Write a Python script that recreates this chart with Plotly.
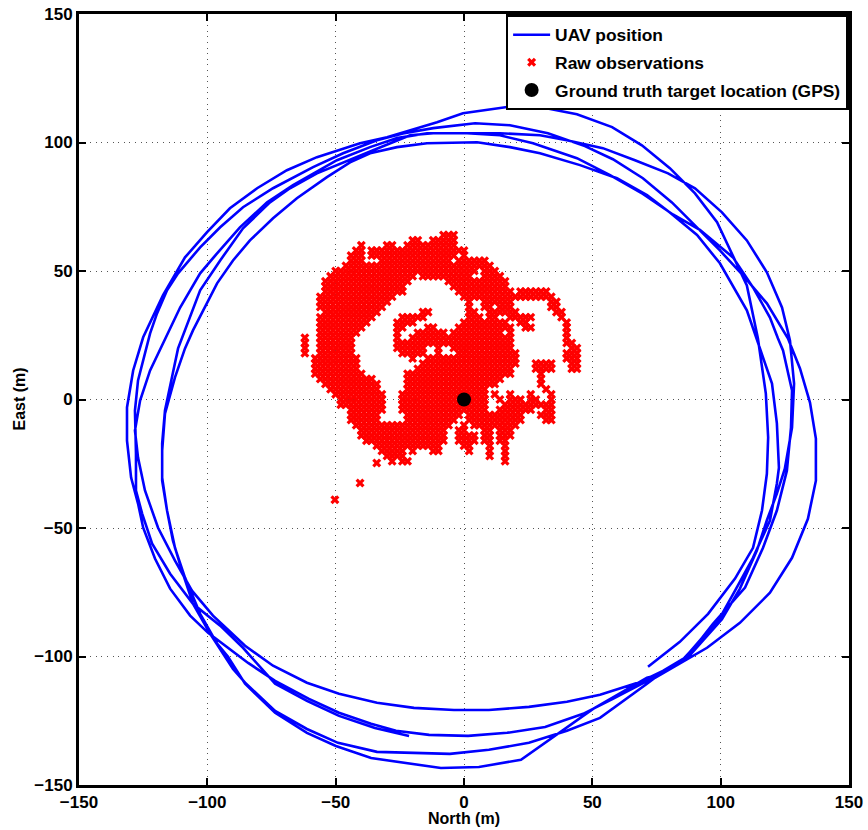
import plotly.graph_objects as go

# UAV track as (north, east) in metres, leg by leg
leg1 = [(71.7,-104),(84.1,-94.3),(95.1,-83.4),(105.6,-69.7),(112.6,-57.7),(116.1,-43.2),(118,-28.9),(118.5,-14.8),(117.6,2.3),(114.5,23.8),
        (110.2,44.4),(104.4,56.9),(98.6,69),(90,80.2),(80.2,90),(69.3,98.9),(57.7,106),(44,111),(29.6,113.8),(16.8,113.8),(4.3,112.2),(-0.4,111.4),
        (-10.5,107.9),(-21,104.8),(-30,102),(-40.5,99.7),(-57.3,94.3),(-69,89.2),(-80.6,82.2),(-91.2,74.4),(-100.1,65.1),(-108.7,55.3),(-117.3,40.5),(-125,24.2),
        (-128.9,11.3),(-131.3,-3.1),(-131.3,-16),(-129.7,-30.4),(-127,-40.5),(-125,-49.9),(-120.4,-61.9),(-114.5,-73.6),(-106.7,-84.1),(-99.7,-90.8),
        (-84.1,-102.5),(-73.6,-109.5),(-60.4,-116.5),(-48.7,-121.9),(-36.2,-126.2),(-26.5,-128.9),(-13.6,-130.5),(1.6,-130.9),(16.8,-129.7),(31.6,-127.4),(46.4,-122.3),(58,-116.5),(71.3,-109.5)]
leg2 = [(75.2,-107.5),(88,-99.5),(94.7,-92),(100.5,-85.5),(107.5,-73.6),(114.1,-58.8),(118,-47),(121.9,-36.6),(125,-26.9),(127.8,-10.9),(128.6,6.2),(127,23),(123.9,35.8),(118,49.5),
        (110.2,61.9),(100.5,72.8),(90,82.2),(79.5,88),(66.6,93.1),(54.1,97.8),(40.1,100.9),(29.6,102.8),(14,103.6),(-0.4,103.6),(-14.4,103.6),(-26.1,101.7),(-36.6,98.2),(-49.5,93.1),(-66.6,83.4),
        (-76.7,76.7),(-87.3,67),(-96.2,56.9),(-102.8,49.1),(-110.6,35.8),(-118.4,19.9),(-122.3,11.3),(-126.2,-0.4),(-128.2,-12.1),(-127,-22.6),(-124.3,-35.4),(-119.2,-49.9),(-112.6,-62.7),(-106,-74.4),(-97.8,-84.1),
        (-85.3,-95.8),(-74.4,-103.6),(-61.2,-110.2),(-48.7,-114.5),(-33.9,-118),(-19.5,-120),(-3.9,-120.8),(9.7,-120.8),(25.3,-119.6),(40.1,-117.6),(53,-114.9),(68.6,-109.9),(77.5,-105.6)]
leg3 = [(86,-100.5),(93,-92.5),(98.6,-86.9),(105.6,-74.4),(112.6,-61.6),(119.2,-47.1),(121.9,-32.7),(122.7,-26.5),(121.9,-9.3),(120,6.2),(116.5,16.4),(114.5,23),(110.2,34.7),(99.7,53),(90.8,64),(80.2,72.8),(71.3,79.5),(59.6,86.1),(45.2,91.2),(29.6,95.8),(17.9,98.2),(5.1,100.1),(-14.4,99.7),(-26.1,98.2),(-36.6,95.8),(-44.4,92.3),(-53.4,86.5),(-65.1,78.3),(-74.4,70.5),(-83.4,61.9),(-90,54.1),(-96.2,45.2),(-101.7,34.7),(-105.6,26.9),(-108.7,19.9),
        (-112.6,8.6),(-116.5,-5.5),(-117.6,-19.9),(-117.6,-31.6),(-115.7,-43.2),(-112.6,-57.7),(-108.7,-69.3),(-102.8,-83.4),(-96.2,-95),
        (-92,-100),(-85.3,-110.6),(-73.6,-121.9),(-61.2,-129.7),(-49.9,-134.8),(-36.2,-139.5),(-9,-143.4),(5.8,-143),(22.2,-140.2),(50.3,-120.4),(71.3,-108.3)]
leg4 = [(74.4,-107.5),(84.5,-102),(91,-95),(97,-87.3),(109.5,-73.2),(116.5,-57.7),(121.9,-43.2),(125.8,-27.7),(127.4,-10.9),(127.8,3.5),(124.3,19.1),(122.3,23.8),(119.2,31.9),(112.6,43.6),(104.8,55.3),(91.9,66),(81.4,72),(69.7,80),(56.9,87.3),(44,93.9),(26.9,99.7),(14,102.8),(1.2,103.6),(-12,103.6),(-21,102.8),(-35.4,97),(-49.5,91.2),(-57.3,88),(-67.8,82.2),(-75.6,76.7),(-86.1,66.6),(-95,54.1),(-102.8,42.5),(-106.7,31.9),(-111.4,19.9),
        (-113.8,8.6),(-116.5,-4.3),(-117.6,-17.1),(-117.6,-30.4),(-115.7,-43.2),(-113.4,-54.9),(-109.9,-66.6),(-105.6,-79.5),(-98.9,-91.2),(-90,-104.8),(-85.3,-110.2),(-73.6,-121.2),(-61.2,-128.2),(-49.1,-133.6),(-33.9,-137.1),(-5.5,-137.9),(9.7,-136.3),(25.3,-133.6),(40.1,-128.9),(53,-123.9),(71.3,-110.6)]
leg5 = [(74.4,-108.3),(94.7,-96.6),(107.5,-86.9),(119.2,-75.2),(127.8,-61.6),(134,-46.4),(137.1,-31.6),(137.1,-15.2),(134.8,-1.2),(130.9,12.1),(126.2,23.8),(118,37.4),(108.7,48.3),(99.7,58),(90.8,67),(81,76.7),(69.7,86.1),(58,93.5),(47.1,98.6),(32.7,103.6),(17.9,106.7),(4.3,107.5),(-12,105.6),(-23.8,103.5),(-33.9,100.9),(-47.1,95.8),(-58.8,90.4),(-74.4,82.2),(-86.1,74.8),(-95,67),(-102.8,59.2),(-111.4,49.1),(-115.7,42.5),(-119.6,33.5),(-122.3,25.7),
        (-127,7.4),(-128.2,-4.3),(-127.8,-21),(-127.8,-35.4),(-125.4,-44.4),(-121.5,-56.1),(-114.5,-67.8),(-105.6,-79.5),(-95,-88),(-86.1,-96.6),(-73.6,-110.6),(-61.2,-117.3),(-48.7,-123.1),(-34.7,-127.8),(-21.4,-130.9)]

# Raw observations, east value -> north values
obs_rows = {
 64: [-8,-6,-4],
 62: [-20,-18,-12,-10,-8,-6,-4],
 60: [-40,-30,-28,-22,-20,-18,-16,-14,-12,-10,-8,-6,-4],
 58: [-42,-40,-36,-34,-32,-30,-28,-26,-24,-22,-20,-18,-16,-14,-12,-10,-8,-6,-4,-2,0],
 56: [-44,-42,-40,-36,-34,-32,-30,-28,-26,-24,-22,-20,-18,-16,-14,-12,-10,-8,-6,-4,0],
 54: [-44,-42,-40,-32,-30,-28,-26,-24,-22,-20,-18,-16,-14,-12,-10,-8,-6,-2,0,2,4,6,8],
 52: [-46,-44,-42,-40,-38,-36,-34,-32,-30,-28,-26,-24,-22,-20,-18,-16,-14,-12,-10,-8,-6,-4,-2,0,2,4,6,8,10],
 50: [-50,-48,-46,-44,-42,-40,-38,-36,-34,-32,-30,-28,-26,-24,-22,-20,-18,-16,-14,-12,-10,-8,-6,-4,-2,0,2,4,8,10,12],
 48: [-52,-50,-48,-46,-44,-42,-40,-38,-36,-34,-32,-30,-28,-26,-24,-22,-20,-16,-14,-12,-10,-8,-6,-4,-2,0,2,8,10,12,14],
 46: [-54,-52,-50,-48,-46,-44,-42,-40,-38,-36,-34,-32,-30,-28,-26,-24,-22,-6,-4,-2,0,2,4,6,8,10,12,14,16],
 44: [-54,-52,-50,-48,-46,-44,-42,-40,-38,-36,-34,-32,-30,-28,-26,-24,-4,-2,0,2,4,6,8,10,12,14,16],
 42: [-54,-52,-50,-48,-46,-44,-42,-40,-38,-36,-34,-32,-30,-28,-26,-24,-2,0,2,4,6,8,10,12,14,16,18,22,24,26,28,30,32],
 40: [-56,-54,-52,-50,-48,-46,-44,-42,-40,-38,-36,-34,-32,-30,-28,0,2,4,6,8,10,12,14,16,18,20,22,24,26,28,30,32,34],
 38: [-56,-54,-52,-50,-48,-46,-44,-42,-40,-38,-36,-34,-32,-30,2,8,10,12,14,16,18,34,36],
 36: [-56,-54,-52,-50,-48,-46,-44,-42,-40,-38,-36,-34,-32,2,8,10,14,16,18,34,36],
 34: [-54,-52,-50,-48,-46,-44,-42,-40,-38,-36,-34,-16,-14,2,4,10,12,14,16,18,20,36,38],
 32: [-56,-54,-52,-50,-48,-46,-44,-42,-40,-38,-36,-24,-22,-20,-18,-16,2,4,6,10,12,18,20,22,24,26,38],
 30: [-56,-54,-52,-50,-48,-46,-44,-42,-40,-38,-26,-24,-22,-20,0,2,4,6,8,10,12,14,16,22,24,40],
 28: [-56,-54,-52,-50,-48,-46,-44,-42,-40,-26,-24,-14,-12,-2,0,2,4,6,8,10,12,14,16,18,24,26,40],
 26: [-56,-54,-52,-50,-48,-46,-44,-42,-26,-18,-16,-14,-12,-10,-8,-4,-2,0,2,4,6,8,10,12,14,18,40],
 24: [-62,-56,-54,-52,-50,-48,-46,-44,-26,-20,-18,-16,-14,-12,-10,-8,-6,-4,-2,0,2,4,6,8,10,12,14,16,18,40],
 22: [-62,-56,-54,-52,-50,-48,-46,-44,-26,-24,-22,-20,-18,-16,-14,-12,-10,-8,-6,-4,-2,0,2,4,6,8,10,12,14,16,18,40,42],
 20: [-62,-56,-54,-52,-50,-48,-46,-44,-26,-24,-22,-20,-18,-16,-10,-4,-2,0,2,4,6,8,10,12,14,16,18,42,44],
 18: [-62,-56,-54,-52,-50,-48,-46,-44,-24,-22,-20,-18,-16,-10,-2,0,2,4,6,8,10,12,14,16,18,20,40,42,44],
 16: [-58,-56,-54,-52,-50,-48,-46,-44,-42,-20,-14,-12,-10,-8,-6,-4,-2,0,2,4,6,8,10,12,14,16,18,20,40,42,44],
 14: [-58,-56,-54,-52,-50,-48,-46,-44,-42,-16,-14,-12,-10,-8,-6,-4,-2,0,2,4,6,8,10,12,14,16,18,20,28,30,32,34,42,44],
 12: [-58,-56,-54,-52,-50,-48,-46,-44,-42,-18,-16,-14,-12,-10,-8,-6,-4,-2,0,2,4,6,8,10,12,14,16,18,28,30,32,34,42,44],
 10: [-58,-56,-54,-52,-50,-48,-46,-44,-42,-40,-22,-20,-18,-16,-14,-12,-10,-8,-6,-4,-2,0,2,4,6,8,10,12,14,16,18,30],
 8: [-56,-54,-52,-50,-48,-46,-44,-42,-40,-38,-36,-22,-20,-18,-16,-14,-12,-10,-8,-6,-4,-2,0,2,4,6,8,10,12,14,30],
 6: [-54,-52,-50,-48,-46,-44,-42,-40,-38,-36,-34,-22,-20,-18,-16,-14,-12,-10,-8,-6,-4,-2,0,2,4,6,8,10,12,30],
 4: [-52,-50,-48,-46,-44,-42,-40,-38,-36,-34,-22,-20,-18,-16,-14,-12,-10,-8,-6,-4,-2,0,2,4,6,8,32],
 2: [-50,-48,-46,-44,-42,-40,-38,-36,-34,-32,-24,-22,-20,-18,-16,-14,-12,-10,-8,-6,-4,-2,0,2,4,6,8,12,18,26,34],
 0: [-48,-46,-44,-42,-40,-38,-36,-34,-32,-24,-22,-20,-18,-16,-14,-12,-10,-8,-6,-4,-2,0,2,4,6,8,14,18,20,22,26,28,34],
 -2: [-48,-46,-44,-42,-40,-38,-36,-34,-32,-24,-22,-20,-18,-16,-14,-12,-10,-8,-6,-4,-2,0,2,4,6,8,16,18,20,22,24,26,28,30,32,34],
 -4: [-44,-42,-40,-38,-36,-34,-32,-24,-22,-20,-18,-16,-14,-12,-10,-8,-6,-4,-2,0,2,4,6,8,14,16,18,20,22,24,26,32,34],
 -6: [-44,-42,-40,-38,-36,-34,-22,-20,-18,-16,-14,-12,-10,-8,-6,-4,-2,2,4,6,8,10,12,14,16,18,20,22,30,32,34],
 -8: [-44,-42,-40,-38,-36,-34,-22,-20,-18,-16,-14,-12,-10,-8,-6,-4,2,4,6,8,10,12,14,16,18,20,22,32,34],
 -10: [-42,-40,-38,-36,-34,-32,-30,-28,-26,-24,-22,-20,-18,-16,-14,-12,-10,-8,-6,0,4,6,8,10,12,14,16,18,20],
 -12: [-40,-38,-36,-34,-32,-30,-28,-26,-24,-22,-20,-18,-16,-14,-12,-10,-8,-2,0,8,10,14,16,18],
 -14: [-40,-38,-36,-34,-32,-30,-28,-26,-24,-22,-20,-18,-16,-14,-12,-10,-8,-2,0,2,4,8,10,14,16,18],
 -16: [-38,-36,-34,-32,-30,-28,-26,-24,-22,-20,-18,-16,-14,-12,-10,-8,-2,0,2,4,8,10,14,16],
 -18: [-34,-32,-30,-28,-26,-24,-22,-20,-18,-16,-14,-12,-10,0,2,10,16],
 -20: [-32,-30,-28,-26,-24,-20,-12,-10,2,10,16],
 -22: [-30,-28,-26,-24,10,16],
 -24: [-28,-24,-22,16],
}
stray_north = [-34, -40.5, -50.3]
stray_east = [-24.7, -32.5, -39]

target_north = [0]
target_east = [0]

x_ticks = [-150, -100, -50, 0, 50, 100, 150]
y_ticks = [-150, -100, -50, 0, 50, 100, 150]

uav = leg1 + leg2 + leg3 + leg4 + leg5
uav_north = [p[0] for p in uav]
uav_east = [p[1] for p in uav]
obs_north = [x for y, xs in obs_rows.items() for x in xs] + stray_north
obs_east = [y for y, xs in obs_rows.items() for x in xs] + stray_east

FONT = "Liberation Sans"
TITLE_FONT = dict(family=FONT, size=16, color="black", weight="bold")
fig = go.Figure()
fig.add_trace(go.Scatter(x=uav_north, y=uav_east, mode="lines", name="UAV position", legendgroup="a",
                         line=dict(color="#0000ff", width=2.6)))
fig.add_trace(go.Scatter(x=obs_north, y=obs_east, mode="markers", name="Raw observations", legendgroup="b",
                         marker=dict(symbol="x", size=8, color="#ff0000", line=dict(width=0))))
fig.add_trace(go.Scatter(x=target_north, y=target_east, mode="markers", name="Ground truth target location (GPS)", legendgroup="c",
                         marker=dict(symbol="circle", size=14, color="#000000")))

axis = dict(range=[-150, 150], tickmode="array", showline=True, linecolor="black", linewidth=3,
            mirror="ticks", ticks="inside", ticklen=7, tickwidth=2, tickcolor="black", automargin=False,
            showgrid=True, gridcolor="#555555", gridwidth=1, griddash="1px,4.6px", zeroline=False,
            tickfont=dict(family=FONT, size=17, color="black", weight="bold"))
fig.update_xaxes(**axis, tickvals=x_ticks)
fig.update_yaxes(**axis, tickvals=y_ticks)
fig.update_layout(
    width=868, height=830, autosize=False, paper_bgcolor="white", plot_bgcolor="white",
    margin=dict(l=79, r=19, t=14, b=45),
    legend=dict(x=0.9995, y=0.9995, xanchor="right", yanchor="top", bgcolor="white", bordercolor="black", borderwidth=2.5,
                itemwidth=37, traceorder="grouped", tracegroupgap=2,
                font=dict(family=FONT, size=17.4, color="black", weight="bold")),
    annotations=[
        dict(text="North (m)", xref="x", x=0, yref="paper", y=0, yshift=-33, yanchor="middle", xanchor="center",
             showarrow=False, font=TITLE_FONT),
        dict(text="East (m)", xref="paper", x=0, yref="y", y=0, xshift=-60, textangle=-90, xanchor="center", yanchor="middle",
             showarrow=False, font=TITLE_FONT),
    ],
)
# Drop the page's default 8 px body margin so the figure starts at the window corner
fig.write_html("out.html", config={"displayModeBar": False}, post_script="document.body.style.margin='0';")
